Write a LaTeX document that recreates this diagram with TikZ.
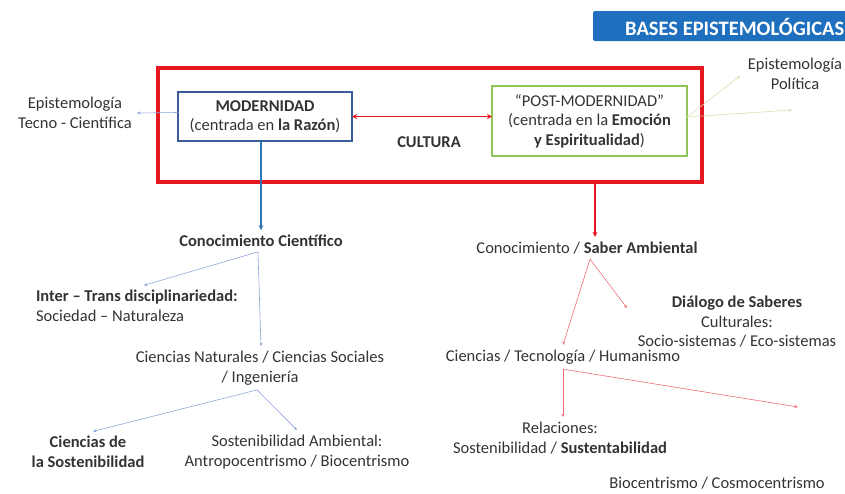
\documentclass[tikz,border=0pt]{standalone}
\usepackage{fontspec}
\setmainfont{Carlito}
\usetikzlibrary{arrows.meta}
\definecolor{marcorojo}{HTML}{E5171E}
\definecolor{azulmod}{HTML}{3B5C9A}
\definecolor{verdepost}{HTML}{8FC657}
\definecolor{azulflecha}{HTML}{2E75B6}
\definecolor{azulfino}{HTML}{8EA3D8}
\definecolor{rojofino}{HTML}{EE6C76}
\definecolor{verdefino}{HTML}{CFE3B0}
\definecolor{franja}{HTML}{1F6FBF}
\definecolor{texto}{HTML}{333333}
\tikzset{
    txt/.style={align=center, text=texto, font=\fontsize{16.5}{19.5}\selectfont, inner sep=1pt, outer sep=4pt},
    caja/.style={txt, draw, minimum width=#1},
    marco/.style={draw=marcorojo, line width=3.5pt, inner sep=0},
    fino/.style={line width=0.6pt, -{Stealth[length=3.5pt,width=3pt]}},
    grueso/.style={line width=1.6pt, -{Stealth[length=5pt,width=5pt]}}
}

\begin{document}
\begin{tikzpicture}[x=1pt,y=-1pt]
    \useasboundingbox (0,0) rectangle (845,493);
    % franja del titulo
    \fill[franja, rounded corners=2pt] (593,11) rectangle (850,41);
    \node[anchor=west, text=white, font=\fontsize{20.5}{22}\selectfont\bfseries, inner sep=0] (titulo) at (625,26.5) {BASES EPISTEMOLÓGICAS};

    % bloque superior
    \node[marco, minimum width=544, minimum height=114] (cultura) at (430,125) {};
    \node[caja=174, draw=azulmod, line width=1.2pt, minimum height=49, outer sep=0] (mod) at (265,116.5)
        {\textbf{MODERNIDAD}\\(centrada en \textbf{la Razón})};
    \node[caja=195, draw=verdepost, line width=1.5pt, minimum height=70, outer sep=0] (post) at (589.5,121)
        {“POST-MODERNIDAD”\\(centrada en la \textbf{Emoción}\\\textbf{y Espiritualidad})};
    \node[txt, font=\fontsize{16.5}{19.5}\selectfont\bfseries] (cult) at (429,142) {CULTURA};
    \draw[marcorojo, line width=1.6pt, {Stealth[length=5pt,width=5pt]}-{Stealth[length=5pt,width=5pt]}]
        (mod.east) -- (mod.east -| post.west);

    \node[txt] (epitc) at (75,113) {Epistemología\\Tecno - Científica};
    \node[txt] (epipol) at (795,74) {Epistemología\\Política};
    \draw[fino, azulfino] ([yshift=4pt]mod.west) -- (epitc.east);
    \coordinate (gtip1) at (740,76);
    \coordinate (gtip2) at (792,110);
    \draw[fino, verdefino] ([yshift=4pt]post.east) -- (gtip1);
    \draw[fino, verdefino] ([yshift=4pt]post.east) -- (gtip2);

    % rama de la modernidad
    \node[txt, font=\fontsize{16.5}{19.5}\selectfont\bfseries] (cc) at (261,241) {Conocimiento Científico};
    \node[txt, align=left, anchor=west] (itd) at (31,306) {\textbf{Inter – Trans disciplinariedad:}\\Sociedad – Naturaleza};
    \node[txt] (cnat) at (260,368) {Ciencias Naturales / Ciencias Sociales\\/ Ingeniería};
    \node[txt, font=\fontsize{16.5}{19.5}\selectfont\bfseries] (csos) at (88,452) {Ciencias de\\la Sostenibilidad};
    \node[txt] (samb) at (297,452) {Sostenibilidad Ambiental:\\Antropocentrismo / Biocentrismo};
    \draw[grueso, azulflecha] (mod.south -| cc.north) -- (cc.north);
    \draw[fino, azulfino] ([xshift=-3pt]cc.south) -- ([xshift=7pt]itd.north);
    \draw[fino, azulfino] ([xshift=-3pt]cc.south) -- (cnat.north -| cc.south);
    \draw[fino, azulfino] ([xshift=-3pt]cnat.south) -- ([xshift=5pt]csos.north);
    \draw[fino, azulfino] ([xshift=-3pt]cnat.south) -- (samb.north);

    % rama de la post-modernidad
    \node[txt] (csa) at (587,248) {Conocimiento / \textbf{Saber Ambiental}};
    \node[txt] (dial) at (737,322) {\textbf{Diálogo de Saberes}\\Culturales:\\Socio-sistemas / Eco-sistemas};
    \node[txt] (cth) at (563,357) {Ciencias / Tecnología / Humanismo};
    \node[txt] (rel) at (560,438) {Relaciones:\\Sostenibilidad / \textbf{Sustentabilidad}};
    \node[txt] (bio) at (717,483) {Biocentrismo / Cosmocentrismo};
    \draw[grueso, marcorojo] (cultura.south -| 595,0) -- (csa.north -| 595,0);
    \coordinate (dtip) at (627,308);
    \coordinate (btip) at (798,407);
    \draw[fino, rojofino] ([xshift=3pt]csa.south) -- (dtip);
    \draw[fino, rojofino] ([xshift=3pt]csa.south) -- (cth.north);
    \draw[fino, rojofino] (cth.south) -- (rel.north -| cth.south);
    \draw[fino, rojofino] (cth.south) -- (btip);
\end{tikzpicture}
\end{document}
